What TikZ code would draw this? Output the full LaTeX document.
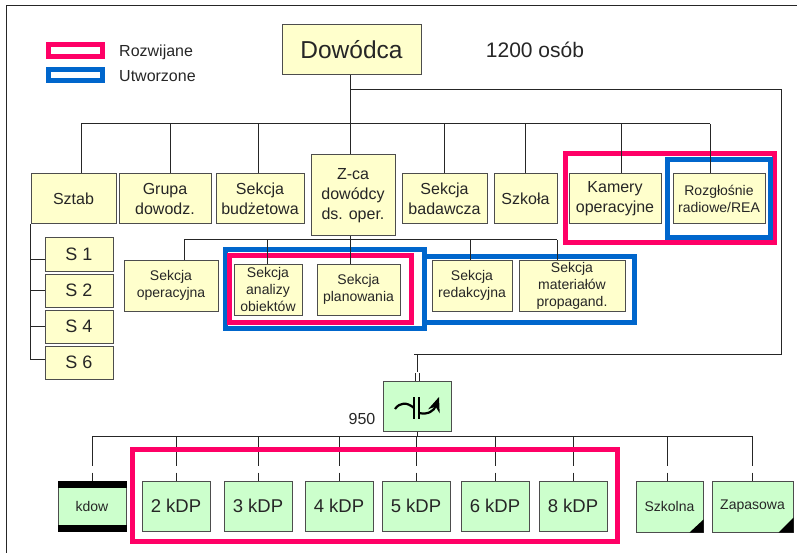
\documentclass[tikz,border=0pt]{standalone}
\usepackage{fontspec}
\setmainfont{Liberation Sans}
\usetikzlibrary{arrows.meta}
\definecolor{ylw}{HTML}{FFFFCC}
\definecolor{grn}{HTML}{CCFFCC}
\definecolor{rozw}{HTML}{FF0066}
\definecolor{utw}{HTML}{0066CC}
\definecolor{edge}{HTML}{4D4D4D}
\definecolor{ink}{HTML}{262626}
\tikzset{
  ybox/.style={draw=edge, fill=ylw, line width=1pt, inner sep=0pt, align=center, text=ink},
  gbox/.style={draw=edge, fill=grn, line width=1pt, inner sep=0pt, align=center, text=ink},
  big/.style={font=\fontsize{16}{20}\selectfont},
  small/.style={font=\fontsize{14}{17}\selectfont},
  kdp/.style={gbox, minimum width=68pt, minimum height=50pt, font=\fontsize{18.5}{22}\selectfont},
  sbox/.style={ybox, minimum width=68pt, minimum height=33pt, font=\fontsize{18}{22}\selectfont},
  redring/.style={draw=rozw, line width=5pt, inner sep=0pt},
  bluring/.style={draw=utw, line width=5pt, inner sep=0pt},
  conn/.style={draw=ink, line width=1pt},
  brk/.style={conn, dash pattern=on 29pt off 7pt on 20pt},
  plain/.style={inner sep=0pt, text=ink}
}

\begin{document}
\begin{tikzpicture}[x=1pt, y=-1pt]
\useasboundingbox (0,0) rectangle (797,553);
\draw[conn] (6.5,553) -- (6.5,6) -- (797,6);

% legend
\node[redring, minimum width=54pt, minimum height=11.5pt] (legR) at (75.5,50.5) {};
\node[bluring, minimum width=54pt, minimum height=11pt] (legB) at (75.5,75) {};
\node[plain, right, font=\fontsize{16}{18}\selectfont] (txtR) at (119,52) {Rozwijane};
\node[plain, right, font=\fontsize{16}{18}\selectfont] (txtB) at (119,76.5) {Utworzone};
\node[plain, font=\fontsize{21}{24}\selectfont] (liczba) at (535,49.5) {1200 osób};
\node[plain, font=\fontsize{16}{20}\selectfont] (n950) at (362,419) {950};

% rings
\node[redring, minimum width=209pt, minimum height=89pt] (rKam) at (670,198) {};
\node[bluring, minimum width=102.5pt, minimum height=78pt] (uRoz) at (718.75,199) {};
\node[bluring, minimum width=199pt, minimum height=79pt] (uAna) at (325,289) {};
\node[redring, minimum width=182pt, minimum height=67pt] (rAna) at (320.5,289) {};
\node[bluring, minimum width=209.5pt, minimum height=66pt] (uRed) at (529.25,289) {};

% first level
\node[ybox, minimum width=139pt, minimum height=50pt, font=\fontsize{24.5}{30}\selectfont] (dow) at (351.5,50) {Dowódca};
\node[ybox, big, minimum width=85pt, minimum height=50pt] (sztab) at (73.5,199) {Sztab};
\node[ybox, big, minimum width=92pt, minimum height=50pt] (grupa) at (165,199) {Grupa\\dowodz.};
\node[ybox, big, minimum width=88pt, minimum height=50pt] (budz) at (260,199) {Sekcja\\budżetowa};
\node[ybox, big, minimum width=84pt, minimum height=81pt] (zca) at (353,195.5) {Z-ca\\dowódcy\\ds. oper.};
\node[ybox, big, minimum width=85pt, minimum height=50pt] (bad) at (444.5,199) {Sekcja\\badawcza};
\node[ybox, big, minimum width=63pt, minimum height=50pt] (szk) at (525.5,199) {Szkoła};
\node[ybox, big, minimum width=92pt, minimum height=50pt] (kam) at (615,199) {Kamery\\operacyjne};
\node[ybox, small, minimum width=92pt, minimum height=50pt] (roz) at (719,199) {Rozgłośnie\\radiowe/REA};

% S boxes
\node[sbox] (s1) at (79,254.5) {S 1};
\node[sbox] (s2) at (79,290.5) {S 2};
\node[sbox] (s4) at (79,326.5) {S 4};
\node[sbox] (s6) at (79,362.5) {S 6};

% second level
\node[ybox, small, minimum width=94pt, minimum height=51pt] (oper) at (171,285.5) {Sekcja\\operacyjna};
\node[ybox, small, minimum width=68pt, minimum height=51pt] (ana) at (268,289.5) {Sekcja\\analizy\\obiektów};
\node[ybox, small, minimum width=83pt, minimum height=51pt] (plan) at (358.5,289.5) {Sekcja\\planowania};
\node[ybox, small, minimum width=80pt, minimum height=51pt] (red) at (472,285.5) {Sekcja\\redakcyjna};
\node[ybox, small, minimum width=106pt, minimum height=51pt] (mat) at (572,285.5) {Sekcja\\materiałów\\propagand.};

% bottom
\node[gbox, minimum width=68pt, minimum height=50pt] (sw) at (417,406) {};
\node[gbox, small, minimum width=68pt, minimum height=50pt] (kd) at (92,506) {kdow};
\node[kdp] (k2) at (176,506) {2 kDP};
\node[kdp] (k3) at (258,506) {3 kDP};
\node[kdp] (k4) at (339,506) {4 kDP};
\node[kdp] (k5) at (416,506) {5 kDP};
\node[kdp] (k6) at (495,506) {6 kDP};
\node[kdp] (k8) at (573,506) {8 kDP};
\node[gbox, small, minimum width=67pt, minimum height=51pt] (sz) at (669.5,506.5) {Szkolna};
\node[gbox, small, minimum width=81pt, minimum height=51pt] (za) at (752.5,506.5) {Zapasowa};

\fill (kd.north west) rectangle ([yshift=-7pt]kd.north east);
\fill (kd.south west) rectangle ([yshift=7pt]kd.south east);
\fill (sz.south east) -- ++(-14,0) -- ++(14,-13) -- cycle;
\fill (za.south east) -- ++(-15,0) -- ++(15,-15) -- cycle;

% symbol
\draw[line width=2.2pt] (414,397) -- (414,419);
\draw[line width=2.2pt] (419,397) -- (419,419);
\draw[line width=2.2pt] (395,409) .. controls (400,402) and (407,402) .. (414,408);
\draw[line width=2.2pt, -{Stealth[length=15pt, width=12pt]}] (419,413) .. controls (428,415) and (434,411) .. (439,397);

% connectors
\coordinate (top) at (350,124);
\coordinate (mid) at (350,240);
\coordinate (low) at (417,436.5);
\coordinate (rgt) at (781,90);
\coordinate (busL) at (81,124);
\coordinate (busR) at (710,124);
\coordinate (midL) at (184,240);
\draw[conn] (dow.south -| top) -- (zca.north -| top);
\draw[conn] (zca.south -| mid) -- (mid);
\draw[conn] (busL) -- (busR);
\draw[conn] (busL) -- (sztab.north -| busL);
\draw[conn] (170,124) -- (grupa.north -| 170,0);
\draw[conn] (258,124) -- (budz.north -| 258,0);
\draw[conn] (bad.north |- top) -- (bad.north);
\draw[conn] (szk.north |- top) -- (szk.north);
\draw[conn] (621,124) -- (kam.north -| 621,0);
\draw[conn] (busR) -- (roz.north -| busR);

\draw[conn] (350,90) -- (rgt) -- (781,354.5) -- (414,354.5);
\draw[conn] (417,354.5) -- (417,372);
\draw[conn] ([xshift=-2pt]sw.north) -- ++(0,-8);
\draw[conn] ([xshift=2pt]sw.north) -- ++(0,-8);

\draw[conn] (sztab.south west) |- ([yshift=-4.5pt]s1.west);
\draw[conn] (sztab.south west) |- (s2.west);
\draw[conn] (sztab.south west) |- (s4.west);
\draw[conn] (sztab.south west) |- ([yshift=3.5pt]s6.west);

\draw[conn] (midL) -- (557,240);
\draw[conn] (midL) -- (oper.north -| midL);
\draw[conn] (267,240) -- (ana.north -| 267,0);
\draw[conn] (mid) -- (plan.north -| mid);
\draw[conn] (470,240) -- (red.north -| 470,0);
\draw[conn] (557,240) -- (mat.north -| 557,0);

\draw[conn] (sw.south) -- (low);
\draw[conn] (kd.north |- low) -- (za.north |- low);
\draw[brk] (kd.north |- low) -- (kd.north);
\draw[brk] (k2.north |- low) -- (k2.north);
\draw[brk] (k3.north |- low) -- (k3.north);
\draw[brk] (k4.north |- low) -- (k4.north);
\draw[brk] (k5.north |- low) -- (k5.north);
\draw[brk] (k6.north |- low) -- (k6.north);
\draw[brk] (k8.north |- low) -- (k8.north);
\draw[brk] (667,436.5) -- (sz.north -| 667,0);
\draw[brk] (za.north |- low) -- (za.north);

\node[redring, minimum width=485pt, minimum height=92pt] (rKdp) at (375,495.5) {};
\end{tikzpicture}
\end{document}
